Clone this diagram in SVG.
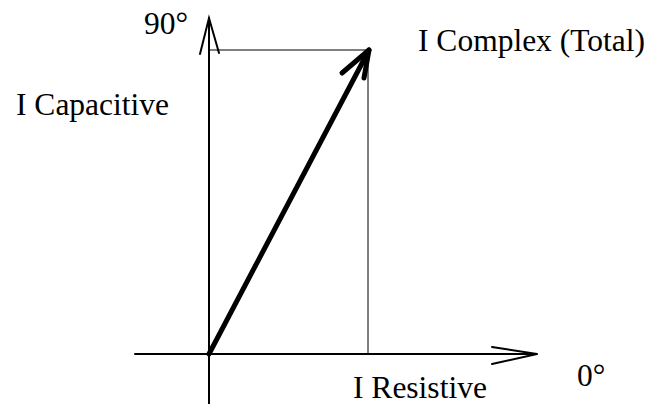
<svg xmlns="http://www.w3.org/2000/svg" width="653" height="404" viewBox="0 0 653 404">
<style>
.ax{stroke:#000;stroke-width:2;fill:none;stroke-linecap:round}
.thin{stroke:#000;stroke-width:1;fill:none}
.vec{stroke:#000;stroke-width:5;fill:none;stroke-linecap:round;stroke-linejoin:round}
.lbl{font-family:"Liberation Serif","Times New Roman",serif;font-size:31.5px;fill:#000}
</style>
<rect width="653" height="404" fill="#fff"/>
<g id="connectors">
<line class="thin" x1="209" y1="50" x2="369" y2="50"/>
<line class="thin" x1="368" y1="50" x2="368" y2="354"/>
<g id="vertical-axis">
<line class="ax" x1="209" y1="18" x2="209" y2="404"/>
<polyline class="ax" points="200,54 209,18 219,53"/>
</g>
<g id="horizontal-axis">
<line class="ax" x1="135" y1="354" x2="537" y2="354"/>
<polyline class="ax" points="492,347 537,354 492,364"/>
</g>
<g id="complex-vector">
<line class="vec" x1="209" y1="354" x2="369" y2="50"/>
<polyline class="vec" points="342,73 369,50 364,78"/>
</g>
</g>
<g id="label-90"><text class="lbl" x="144" y="34">90°</text></g>
<g id="label-complex"><text class="lbl" x="418" y="51">I Complex (Total)</text></g>
<g id="label-capacitive"><text class="lbl" x="16" y="115">I Capacitive</text></g>
<g id="label-resistive"><text class="lbl" x="353" y="398">I Resistive</text></g>
<g id="label-0"><text class="lbl" x="577" y="386">0°</text></g>
</svg>
